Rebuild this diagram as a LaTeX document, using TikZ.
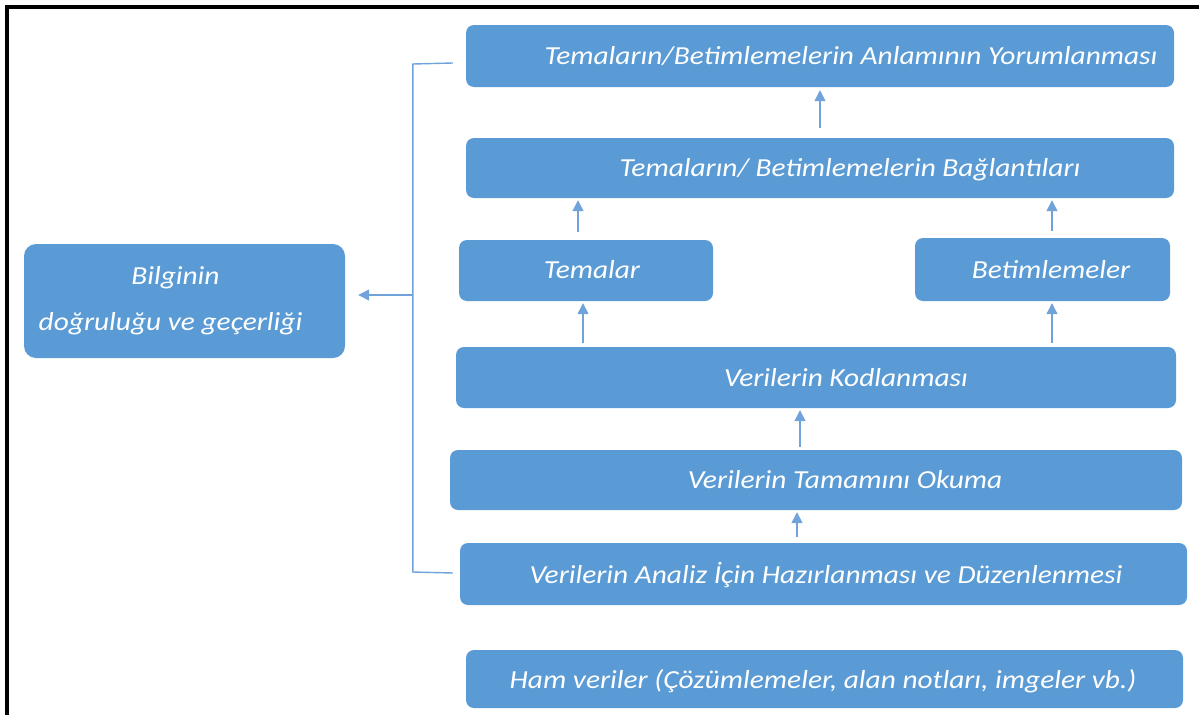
\documentclass[tikz,border=0pt]{standalone}
\usepackage{fontspec}
\setmainfont{Carlito}[FakeStretch=1.13]
\usetikzlibrary{arrows.meta,calc}
\definecolor{boxblue}{HTML}{5B9BD5}
\definecolor{linkblue}{HTML}{6FA3DA}
\begin{document}
\begin{tikzpicture}[x=1pt,y=-1pt,
  box/.style={fill=boxblue, rounded corners=8pt, inner sep=0pt},
  lbl/.style={text=white, font=\fontsize{26}{30}\selectfont\itshape, inner sep=0pt, anchor=base},
  arr/.style={draw=linkblue, line width=1.4pt, -{Triangle[length=11pt,width=11pt]}},
  brk/.style={draw=linkblue, line width=1.4pt}]
\useasboundingbox (0,0) rectangle (1199,715);

% outer frame (top and left edges)
\draw[line width=4pt] (7,715) -- (7,7) -- (1199,7);

% process boxes
\node[box, minimum width=708pt, minimum height=62pt] (b1) at (820,56) {};
\node[box, minimum width=708pt, minimum height=60pt] (b2) at (820,168) {};
\node[box, minimum width=254pt, minimum height=61pt] (b3) at (586,270.5) {};
\node[box, minimum width=255pt, minimum height=63pt] (b4) at (1042.5,269.5) {};
\node[box, minimum width=720pt, minimum height=61pt] (b5) at (816,377.5) {};
\node[box, minimum width=732pt, minimum height=60pt] (b6) at (816,480) {};
\node[box, minimum width=727pt, minimum height=62pt] (b7) at (823.5,574) {};
\node[box, minimum width=717pt, minimum height=58pt] (b8) at (824.5,679) {};
\node[box, rounded corners=12pt, minimum width=321pt, minimum height=114pt] (bg) at (184.5,301) {};

% labels
\node[lbl] (t1) at (851,64) {Temaların/Betimlemelerin Anlamının Yorumlanması};
\node[lbl] (t2) at (850,176) {Temaların/ Betimlemelerin Bağlantıları};
\node[lbl] (t3) at (592,278) {Temalar};
\node[lbl] (t4) at (1051,278) {Betimlemeler};
\node[lbl] (t5) at (846,386) {Verilerin Kodlanması};
\node[lbl] (t6) at (845,488) {Verilerin Tamamını Okuma};
\node[lbl] (t7) at (826,583) {Verilerin Analiz İçin Hazırlanması ve Düzenlenmesi};
\node[lbl] (t8) at (823,688) {Ham veriler (Çözümlemeler, alan notları, imgeler vb.)};
\node[lbl] (g1) at (175.5,284) {Bilginin};
\node[lbl] (g2) at (170.5,330) {doğruluğu ve geçerliği};

% arrow columns
\coordinate (a1) at (820,0);
\coordinate (a2) at (578,0);
\coordinate (a3) at (1052,0);
\coordinate (a4) at (583,0);
\coordinate (a6) at (800,0);
\coordinate (a7) at (797,0);

\draw[arr, shorten <=10pt, shorten >=3pt] (b2.north -| a1) -- (b1.south -| a1);
\draw[arr, shorten <=8pt, shorten >=2pt] (b3.north -| a2) -- (b2.south -| a2);
\draw[arr, shorten <=7pt, shorten >=2pt] (b4.north -| a3) -- (b2.south -| a3);
\draw[arr, shorten <=4pt, shorten >=2pt] (b5.north -| a4) -- (b3.south -| a4);
\draw[arr, shorten <=4pt, shorten >=2pt] (b5.north -| a3) -- (b4.south -| a3);
\draw[arr, shorten <=3pt, shorten >=2pt] (b6.north -| a6) -- (b5.south -| a6);
\draw[arr, shorten <=6pt, shorten >=2pt] (b7.north -| a7) -- (b6.south -| a7);

% bracket spanning the process, feeding the validity box
\draw[brk] ($(b1.west)+(-13,7)$) -- ($(b1.west)+(-53,8)$)
  -- ($(b7.west)+(-47,-2)$) -- ($(b7.west)+(-7,-1)$);
\coordinate (brmid) at (413,295);
\draw[arr, shorten >=13pt] (brmid) -- (brmid -| bg.east);
\end{tikzpicture}
\end{document}
